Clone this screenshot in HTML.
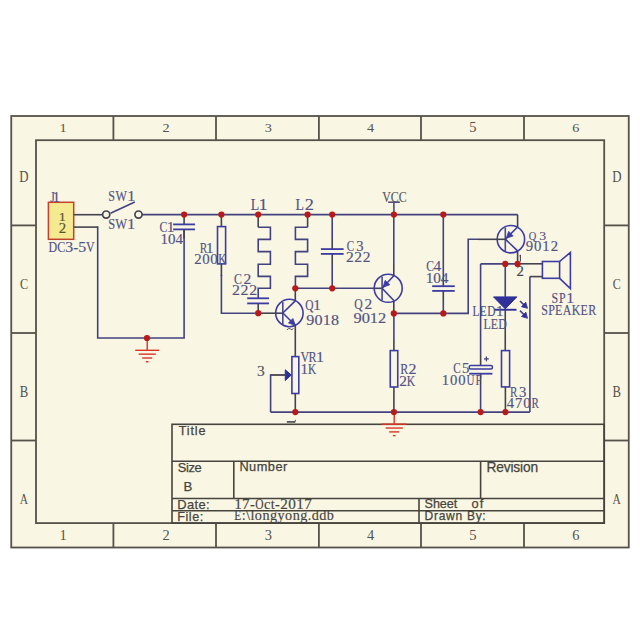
<!DOCTYPE html>
<html><head><meta charset="utf-8"><style>
html,body{margin:0;padding:0;background:#ffffff;}
body{width:640px;height:639px;overflow:hidden;}
svg{display:block;}
</style></head><body>
<svg width="640" height="639" viewBox="0 0 640 639">
<rect x="0" y="0" width="640" height="639" fill="#ffffff"/>
<rect x="11.25" y="116" width="617.5" height="431.5" fill="#f9f6e3" stroke="#55524a" stroke-width="1.8"/>
<rect x="36" y="140.2" width="568.20" height="382.90" fill="none" stroke="#55524a" stroke-width="1.8"/>
<line x1="113.4" y1="116" x2="113.4" y2="140.2" stroke="#55524a" stroke-width="1.8" stroke-linecap="butt"/>
<line x1="113.4" y1="523.1" x2="113.4" y2="547.5" stroke="#55524a" stroke-width="1.8" stroke-linecap="butt"/>
<line x1="216" y1="116" x2="216" y2="140.2" stroke="#55524a" stroke-width="1.8" stroke-linecap="butt"/>
<line x1="216" y1="523.1" x2="216" y2="547.5" stroke="#55524a" stroke-width="1.8" stroke-linecap="butt"/>
<line x1="318.9" y1="116" x2="318.9" y2="140.2" stroke="#55524a" stroke-width="1.8" stroke-linecap="butt"/>
<line x1="318.9" y1="523.1" x2="318.9" y2="547.5" stroke="#55524a" stroke-width="1.8" stroke-linecap="butt"/>
<line x1="421" y1="116" x2="421" y2="140.2" stroke="#55524a" stroke-width="1.8" stroke-linecap="butt"/>
<line x1="421" y1="523.1" x2="421" y2="547.5" stroke="#55524a" stroke-width="1.8" stroke-linecap="butt"/>
<line x1="524" y1="116" x2="524" y2="140.2" stroke="#55524a" stroke-width="1.8" stroke-linecap="butt"/>
<line x1="524" y1="523.1" x2="524" y2="547.5" stroke="#55524a" stroke-width="1.8" stroke-linecap="butt"/>
<line x1="11.25" y1="225.4" x2="36" y2="225.4" stroke="#55524a" stroke-width="1.8" stroke-linecap="butt"/>
<line x1="604.2" y1="225.4" x2="628.75" y2="225.4" stroke="#55524a" stroke-width="1.8" stroke-linecap="butt"/>
<line x1="11.25" y1="333" x2="36" y2="333" stroke="#55524a" stroke-width="1.8" stroke-linecap="butt"/>
<line x1="604.2" y1="333" x2="628.75" y2="333" stroke="#55524a" stroke-width="1.8" stroke-linecap="butt"/>
<line x1="11.25" y1="440.5" x2="36" y2="440.5" stroke="#55524a" stroke-width="1.8" stroke-linecap="butt"/>
<line x1="604.2" y1="440.5" x2="628.75" y2="440.5" stroke="#55524a" stroke-width="1.8" stroke-linecap="butt"/>
<text transform="translate(59.54,131.80) scale(1.06,1)" font-family="Liberation Serif" font-size="13.48" fill="#55524a">1</text>
<text transform="translate(59.49,539.70) scale(1.06,1)" font-family="Liberation Serif" font-size="13.64" fill="#55524a">1</text>
<text transform="translate(162.50,131.80) scale(1.06,1)" font-family="Liberation Serif" font-size="13.48" fill="#55524a">2</text>
<text transform="translate(162.46,539.70) scale(1.06,1)" font-family="Liberation Serif" font-size="13.64" fill="#55524a">2</text>
<text transform="translate(264.81,131.80) scale(1.06,1)" font-family="Liberation Serif" font-size="13.48" fill="#55524a">3</text>
<text transform="translate(264.76,539.70) scale(1.06,1)" font-family="Liberation Serif" font-size="13.64" fill="#55524a">3</text>
<text transform="translate(367.04,131.80) scale(1.06,1)" font-family="Liberation Serif" font-size="13.48" fill="#55524a">4</text>
<text transform="translate(367.00,539.70) scale(1.06,1)" font-family="Liberation Serif" font-size="13.64" fill="#55524a">4</text>
<text transform="translate(469.26,131.80) scale(1.06,1)" font-family="Liberation Serif" font-size="13.59" fill="#55524a">5</text>
<text transform="translate(469.21,539.70) scale(1.06,1)" font-family="Liberation Serif" font-size="13.74" fill="#55524a">5</text>
<text transform="translate(572.29,131.80) scale(1.06,1)" font-family="Liberation Serif" font-size="13.48" fill="#55524a">6</text>
<text transform="translate(572.25,539.70) scale(1.06,1)" font-family="Liberation Serif" font-size="13.64" fill="#55524a">6</text>
<text transform="translate(19.35,181.80) scale(0.8,1)" font-family="Liberation Serif" font-size="16.03" fill="#55524a">D</text>
<text transform="translate(612.15,181.80) scale(0.8,1)" font-family="Liberation Serif" font-size="16.03" fill="#55524a">D</text>
<text transform="translate(19.96,288.80) scale(0.8,1)" font-family="Liberation Serif" font-size="15.15" fill="#55524a">C</text>
<text transform="translate(612.76,288.80) scale(0.8,1)" font-family="Liberation Serif" font-size="15.15" fill="#55524a">C</text>
<text transform="translate(19.77,396.90) scale(0.8,1)" font-family="Liberation Serif" font-size="15.88" fill="#55524a">B</text>
<text transform="translate(612.57,396.90) scale(0.8,1)" font-family="Liberation Serif" font-size="15.88" fill="#55524a">B</text>
<text transform="translate(19.73,503.80) scale(0.8,1)" font-family="Liberation Serif" font-size="14.39" fill="#55524a">A</text>
<text transform="translate(612.53,503.80) scale(0.8,1)" font-family="Liberation Serif" font-size="14.39" fill="#55524a">A</text>
<rect x="172.0" y="424.3" width="432.20" height="98.80" rx="0" stroke="#46443d" stroke-width="1.6" fill="none"/>
<line x1="172.0" y1="461.3" x2="604.2" y2="461.3" stroke="#46443d" stroke-width="1.6" stroke-linecap="butt"/>
<line x1="233.8" y1="461.3" x2="233.8" y2="498.5" stroke="#46443d" stroke-width="1.6" stroke-linecap="butt"/>
<line x1="480.6" y1="461.3" x2="480.6" y2="498.5" stroke="#46443d" stroke-width="1.6" stroke-linecap="butt"/>
<line x1="172.0" y1="498.5" x2="604.2" y2="498.5" stroke="#46443d" stroke-width="1.6" stroke-linecap="butt"/>
<line x1="172.0" y1="510.8" x2="604.2" y2="510.8" stroke="#46443d" stroke-width="1.6" stroke-linecap="butt"/>
<line x1="419" y1="498.5" x2="419" y2="523.1" stroke="#46443d" stroke-width="1.6" stroke-linecap="butt"/>
<text x="178.75" y="434.50" font-family="Liberation Sans" font-size="12.61" fill="#46443d" stroke="#46443d" stroke-width="0.25" textLength="26.75" lengthAdjust="spacing">Title</text>
<text x="177.72" y="471.80" font-family="Liberation Sans" font-size="12.90" fill="#46443d" stroke="#46443d" stroke-width="0.25" textLength="23.87" lengthAdjust="spacing">Size</text>
<text x="183.44" y="490.50" font-family="Liberation Sans" font-size="13.19" fill="#46443d" stroke="#46443d" stroke-width="0.25">B</text>
<text x="239.38" y="471.40" font-family="Liberation Sans" font-size="12.75" fill="#46443d" stroke="#46443d" stroke-width="0.25" textLength="47.83" lengthAdjust="spacing">Number</text>
<text x="486.50" y="471.60" font-family="Liberation Sans" font-size="13.77" fill="#46443d" stroke="#46443d" stroke-width="0.25" textLength="51.60" lengthAdjust="spacing">Revision</text>
<text x="177.27" y="508.50" font-family="Liberation Sans" font-size="12.90" fill="#46443d" stroke="#46443d" stroke-width="0.25" textLength="32.26" lengthAdjust="spacing">Date:</text>
<text x="177.29" y="520.60" font-family="Liberation Sans" font-size="12.61" fill="#46443d" stroke="#46443d" stroke-width="0.25" textLength="25.90" lengthAdjust="spacing">File:</text>
<g font-family="Liberation Serif" font-size="14.35" fill="#46443d" stroke="#46443d" stroke-width="0.15"><text transform="translate(234.13,508.70) scale(1.06,1)">1</text><text transform="translate(242.12,508.70) scale(1.06,1)">7</text><text transform="translate(250.10,508.70) scale(1.0,1)">-</text><text transform="translate(255.26,508.70) scale(0.8,1)">O</text><text transform="translate(263.93,508.70) scale(1.0,1)">c</text><text transform="translate(270.67,508.70) scale(1.0,1)">t</text><text transform="translate(275.04,508.70) scale(1.0,1)">-</text><text transform="translate(280.20,508.70) scale(1.06,1)">2</text><text transform="translate(288.18,508.70) scale(1.06,1)">0</text><text transform="translate(296.17,508.70) scale(1.06,1)">1</text><text transform="translate(304.15,508.70) scale(1.06,1)">7</text></g>
<g font-family="Liberation Serif" font-size="14.20" fill="#46443d" stroke="#46443d" stroke-width="0.15"><text transform="translate(234.26,520.40) scale(0.8,1)">E</text><text transform="translate(241.65,520.40) scale(1.0,1)">:</text><text transform="translate(246.06,520.40) scale(1.0,1)">\</text><text transform="translate(250.46,520.40) scale(1.0,1)">l</text><text transform="translate(254.86,520.40) scale(1.0,1)">o</text><text transform="translate(262.41,520.40) scale(1.0,1)">n</text><text transform="translate(269.97,520.40) scale(1.0,1)">g</text><text transform="translate(277.53,520.40) scale(1.0,1)">y</text><text transform="translate(285.08,520.40) scale(1.0,1)">o</text><text transform="translate(292.64,520.40) scale(1.0,1)">n</text><text transform="translate(300.19,520.40) scale(1.0,1)">g</text><text transform="translate(307.75,520.40) scale(1.0,1)">.</text><text transform="translate(311.76,520.40) scale(1.0,1)">d</text><text transform="translate(319.31,520.40) scale(1.0,1)">d</text><text transform="translate(326.87,520.40) scale(1.0,1)">b</text></g>
<text x="424.53" y="508.40" font-family="Liberation Sans" font-size="12.61" fill="#46443d" stroke="#46443d" stroke-width="0.25" textLength="32.77" lengthAdjust="spacing">Sheet</text>
<text x="471.49" y="508.40" font-family="Liberation Sans" font-size="12.75" fill="#46443d" stroke="#46443d" stroke-width="0.25" textLength="11.70" lengthAdjust="spacing">of</text>
<text x="424.54" y="520.30" font-family="Liberation Sans" font-size="12.03" fill="#46443d" stroke="#46443d" stroke-width="0.25" textLength="61.17" lengthAdjust="spacing">Drawn By:</text>
<line x1="142" y1="214.6" x2="517.6" y2="214.6" stroke="#424280" stroke-width="1.6" stroke-linecap="butt"/>
<rect x="48.4" y="202.3" width="25.30" height="37.00" rx="0" stroke="#c0422a" stroke-width="1.5" fill="#f5e992"/>
<g font-family="Liberation Serif" font-size="14.39" fill="#525282" stroke="#525282" stroke-width="0.15"><text transform="translate(50.37,202.00) scale(0.8,1)">J</text><text transform="translate(52.59,202.00) scale(1.06,1)">1</text></g>
<g font-family="Liberation Serif" font-size="13.33" fill="#58522e" stroke="#58522e" stroke-width="0.15"><text transform="translate(58.63,220.50) scale(1.06,1)">1</text></g>
<g font-family="Liberation Serif" font-size="14.09" fill="#58522e" stroke="#58522e" stroke-width="0.15"><text transform="translate(58.63,232.50) scale(1.06,1)">2</text></g>
<g font-family="Liberation Serif" font-size="15.00" fill="#525282" stroke="#525282" stroke-width="0.15"><text transform="translate(48.54,251.70) scale(0.8,1)">D</text><text transform="translate(57.20,251.70) scale(0.8,1)">C</text><text transform="translate(65.20,251.70) scale(1.06,1)">3</text><text transform="translate(73.14,251.70) scale(1.0,1)">-</text><text transform="translate(78.14,251.70) scale(1.06,1)">5</text><text transform="translate(86.08,251.70) scale(0.8,1)">V</text></g>
<line x1="73.7" y1="214.7" x2="102.7" y2="214.7" stroke="#434350" stroke-width="1.6" stroke-linecap="butt"/>
<line x1="73.7" y1="227.1" x2="97.7" y2="227.1" stroke="#434350" stroke-width="1.6" stroke-linecap="butt"/>
<path d="M97.7,226.3 V338 H184.1 V229.4" stroke="#424280" stroke-width="1.6" fill="none" stroke-linejoin="miter"/>
<circle cx="106.2" cy="214.6" r="3.6" stroke="#434350" stroke-width="1.7" fill="none"/>
<circle cx="138.5" cy="214.6" r="3.6" stroke="#434350" stroke-width="1.7" fill="none"/>
<line x1="110.5" y1="213.2" x2="134.8" y2="202" stroke="#424280" stroke-width="1.6" stroke-linecap="butt"/>
<g font-family="Liberation Serif" font-size="15.15" fill="#525282" stroke="#525282" stroke-width="0.15"><text transform="translate(108.21,201.30) scale(0.8,1)">S</text><text transform="translate(115.42,201.30) scale(0.8,1)">W</text><text transform="translate(127.33,201.30) scale(1.06,1)">1</text></g>
<g font-family="Liberation Serif" font-size="15.61" fill="#525282" stroke="#525282" stroke-width="0.15"><text transform="translate(108.19,228.60) scale(0.8,1)">S</text><text transform="translate(115.23,228.60) scale(0.8,1)">W</text><text transform="translate(127.12,228.60) scale(1.06,1)">1</text></g>
<line x1="184.1" y1="214.6" x2="184.1" y2="224.4" stroke="#434350" stroke-width="1.6" stroke-linecap="butt"/>
<line x1="173.1" y1="224.4" x2="195" y2="224.4" stroke="#3c3ca4" stroke-width="1.8" stroke-linecap="butt"/>
<line x1="173.1" y1="229.4" x2="195" y2="229.4" stroke="#3c3ca4" stroke-width="1.8" stroke-linecap="butt"/>
<line x1="184.1" y1="229.4" x2="184.1" y2="238.7" stroke="#434350" stroke-width="1.6" stroke-linecap="butt"/>
<g font-family="Liberation Serif" font-size="14.77" fill="#525282" stroke="#525282" stroke-width="0.15"><text transform="translate(159.53,231.90) scale(0.8,1)">C</text><text transform="translate(166.86,231.90) scale(1.06,1)">1</text></g>
<g font-family="Liberation Serif" font-size="14.14" fill="#525282" stroke="#525282" stroke-width="0.15"><text transform="translate(160.55,244.40) scale(1.06,1)">1</text><text transform="translate(168.02,244.40) scale(1.06,1)">0</text><text transform="translate(175.48,244.40) scale(1.06,1)">4</text></g>
<line x1="221.4" y1="214.6" x2="221.4" y2="226.6" stroke="#434350" stroke-width="1.6" stroke-linecap="butt"/>
<rect x="217.5" y="226.6" width="8.10" height="37.30" rx="0" stroke="#3c3ca4" stroke-width="1.6" fill="none"/>
<line x1="221.4" y1="263.9" x2="221.4" y2="276" stroke="#434350" stroke-width="1.6" stroke-linecap="butt"/>
<path d="M221.4,275 V313.2 H258.2" stroke="#424280" stroke-width="1.6" fill="none" stroke-linejoin="miter"/>
<g font-family="Liberation Serif" font-size="14.09" fill="#525282" stroke="#525282" stroke-width="0.15"><text transform="translate(199.66,253.10) scale(0.8,1)">R</text><text transform="translate(205.93,253.10) scale(1.06,1)">1</text></g>
<g font-family="Liberation Serif" font-size="14.06" fill="#525282" stroke="#525282" stroke-width="0.15"><text transform="translate(194.33,264.00) scale(1.06,1)">2</text><text transform="translate(202.31,264.00) scale(1.06,1)">0</text><text transform="translate(210.29,264.00) scale(1.06,1)">0</text><text transform="translate(218.26,264.00) scale(0.8,1)">K</text></g>
<line x1="258.2" y1="214.6" x2="258.2" y2="227.2" stroke="#434350" stroke-width="1.6" stroke-linecap="butt"/>
<path d="M258.2,227.2 H270.4 V239.4 H258.2 V251.6 H270.4 V264.2 H258.2 V276.4 H270.4 V288.2 H258.2 V298.3" stroke="#424280" stroke-width="1.6" fill="none" stroke-linejoin="miter"/>
<g font-family="Liberation Serif" font-size="17.27" fill="#525282" stroke="#525282" stroke-width="0.15"><text transform="translate(250.79,210.30) scale(0.8,1)">L</text><text transform="translate(258.59,210.30) scale(1.06,1)">1</text></g>
<line x1="307.6" y1="214.6" x2="307.6" y2="227.2" stroke="#434350" stroke-width="1.6" stroke-linecap="butt"/>
<path d="M307.6,227.2 H295.4 V239.4 H307.6 V251.6 H295.4 V264.2 H307.6 V276.4 H295.4 V288.2" stroke="#424280" stroke-width="1.6" fill="none" stroke-linejoin="miter"/>
<g font-family="Liberation Serif" font-size="17.27" fill="#525282" stroke="#525282" stroke-width="0.15"><text transform="translate(295.49,210.30) scale(0.8,1)">L</text><text transform="translate(304.65,210.30) scale(1.06,1)">2</text></g>
<line x1="247.2" y1="298.3" x2="269" y2="298.3" stroke="#3c3ca4" stroke-width="1.8" stroke-linecap="butt"/>
<line x1="247.2" y1="303.4" x2="269" y2="303.4" stroke="#3c3ca4" stroke-width="1.8" stroke-linecap="butt"/>
<line x1="258.2" y1="303.4" x2="258.2" y2="313.2" stroke="#434350" stroke-width="1.6" stroke-linecap="butt"/>
<g font-family="Liberation Serif" font-size="14.70" fill="#525282" stroke="#525282" stroke-width="0.15"><text transform="translate(234.03,284.30) scale(0.8,1)">C</text><text transform="translate(243.57,284.30) scale(1.06,1)">2</text></g>
<g font-family="Liberation Serif" font-size="15.00" fill="#525282" stroke="#525282" stroke-width="0.15"><text transform="translate(231.98,295.30) scale(1.06,1)">2</text><text transform="translate(240.60,295.30) scale(1.06,1)">2</text><text transform="translate(249.22,295.30) scale(1.06,1)">2</text></g>
<line x1="258.2" y1="313.2" x2="282.8" y2="313.2" stroke="#434350" stroke-width="1.6" stroke-linecap="butt"/>
<circle cx="289.4" cy="313" r="13.7" stroke="#3c3ca4" stroke-width="1.6" fill="none"/>
<line x1="282.8" y1="301.9" x2="282.8" y2="324.4" stroke="#4a4a90" stroke-width="1.6" stroke-linecap="butt"/>
<line x1="282.8" y1="313" x2="295.3" y2="300.9" stroke="#3c3ca4" stroke-width="1.6" stroke-linecap="butt"/>
<line x1="282.8" y1="313" x2="295.3" y2="325.3" stroke="#3c3ca4" stroke-width="1.6" stroke-linecap="butt"/>
<polygon points="295.30,325.30 288.42,323.02 292.91,318.46" fill="#3c3ca4" stroke="#3c3ca4" stroke-width="0.8"/>
<line x1="295.3" y1="300.9" x2="295.3" y2="288.2" stroke="#434350" stroke-width="1.6" stroke-linecap="butt"/>
<line x1="295.3" y1="325.3" x2="295.3" y2="356.6" stroke="#434350" stroke-width="1.6" stroke-linecap="butt"/>
<g font-family="Liberation Serif" font-size="14.24" fill="#525282" stroke="#525282" stroke-width="0.15"><text transform="translate(305.14,309.60) scale(0.8,1)">Q</text><text transform="translate(313.36,309.60) scale(1.06,1)">1</text></g>
<g font-family="Liberation Serif" font-size="15.19" fill="#525282" stroke="#525282" stroke-width="0.15"><text transform="translate(306.22,324.80) scale(1.06,1)">9</text><text transform="translate(314.48,324.80) scale(1.06,1)">0</text><text transform="translate(322.74,324.80) scale(1.06,1)">1</text><text transform="translate(330.99,324.80) scale(1.06,1)">8</text></g>
<path d="M287,330 q1.5,-3 3.5,-1 q1.5,1.5 3,-0.5" stroke="#434350" stroke-width="0.9" fill="none"/>
<line x1="295.3" y1="288.3" x2="372" y2="288.3" stroke="#424280" stroke-width="1.6" stroke-linecap="butt"/>
<line x1="372" y1="288.3" x2="382.1" y2="288.3" stroke="#434350" stroke-width="1.6" stroke-linecap="butt"/>
<line x1="332.2" y1="214.6" x2="332.2" y2="239" stroke="#424280" stroke-width="1.6" stroke-linecap="butt"/>
<line x1="332.2" y1="239" x2="332.2" y2="249.1" stroke="#434350" stroke-width="1.6" stroke-linecap="butt"/>
<line x1="332.2" y1="253.9" x2="332.2" y2="264" stroke="#434350" stroke-width="1.6" stroke-linecap="butt"/>
<line x1="332.2" y1="264" x2="332.2" y2="288.3" stroke="#424280" stroke-width="1.6" stroke-linecap="butt"/>
<line x1="320.9" y1="249.1" x2="343.6" y2="249.1" stroke="#3c3ca4" stroke-width="1.8" stroke-linecap="butt"/>
<line x1="320.9" y1="253.9" x2="343.6" y2="253.9" stroke="#3c3ca4" stroke-width="1.8" stroke-linecap="butt"/>
<g font-family="Liberation Serif" font-size="13.79" fill="#525282" stroke="#525282" stroke-width="0.15"><text transform="translate(346.86,250.50) scale(0.8,1)">C</text><text transform="translate(356.18,250.50) scale(1.06,1)">3</text></g>
<g font-family="Liberation Serif" font-size="14.70" fill="#525282" stroke="#525282" stroke-width="0.15"><text transform="translate(346.00,262.00) scale(1.06,1)">2</text><text transform="translate(354.33,262.00) scale(1.06,1)">2</text><text transform="translate(362.67,262.00) scale(1.06,1)">2</text></g>
<line x1="388.2" y1="202.2" x2="399.9" y2="202.2" stroke="#3a3a70" stroke-width="1.4" stroke-linecap="butt"/>
<line x1="393.9" y1="202.2" x2="393.9" y2="214.6" stroke="#424280" stroke-width="1.5" stroke-linecap="butt"/>
<g font-family="Liberation Serif" font-size="14.85" fill="#545460" stroke="#545460" stroke-width="0.15"><text transform="translate(382.18,201.80) scale(0.8,1)">V</text><text transform="translate(390.75,201.80) scale(0.8,1)">C</text><text transform="translate(398.65,201.80) scale(0.8,1)">C</text></g>
<circle cx="388.2" cy="288.3" r="14" stroke="#3c3ca4" stroke-width="1.6" fill="none"/>
<line x1="382.1" y1="276.75" x2="382.1" y2="300.2" stroke="#4a4a90" stroke-width="1.6" stroke-linecap="butt"/>
<line x1="382.1" y1="288.3" x2="393.8" y2="275.8" stroke="#3c3ca4" stroke-width="1.6" stroke-linecap="butt"/>
<line x1="382.1" y1="288.3" x2="393.8" y2="300.5" stroke="#3c3ca4" stroke-width="1.6" stroke-linecap="butt"/>
<polygon points="383.04,287.30 385.14,280.37 389.81,284.74" fill="#3c3ca4" stroke="#3c3ca4" stroke-width="0.8"/>
<line x1="393.8" y1="214.6" x2="393.8" y2="264" stroke="#424280" stroke-width="1.6" stroke-linecap="butt"/>
<line x1="393.8" y1="264" x2="393.8" y2="275.8" stroke="#434350" stroke-width="1.6" stroke-linecap="butt"/>
<line x1="393.8" y1="300.5" x2="393.8" y2="313.4" stroke="#434350" stroke-width="1.6" stroke-linecap="butt"/>
<g font-family="Liberation Serif" font-size="14.55" fill="#525282" stroke="#525282" stroke-width="0.15"><text transform="translate(354.28,309.00) scale(0.8,1)">Q</text><text transform="translate(364.44,309.00) scale(1.06,1)">2</text></g>
<g font-family="Liberation Serif" font-size="15.49" fill="#525282" stroke="#525282" stroke-width="0.15"><text transform="translate(353.51,322.50) scale(1.06,1)">9</text><text transform="translate(361.67,322.50) scale(1.06,1)">0</text><text transform="translate(369.83,322.50) scale(1.06,1)">1</text><text transform="translate(377.99,322.50) scale(1.06,1)">2</text></g>
<line x1="443.3" y1="214.6" x2="443.3" y2="276" stroke="#424280" stroke-width="1.6" stroke-linecap="butt"/>
<line x1="443.3" y1="276" x2="443.3" y2="286.2" stroke="#434350" stroke-width="1.6" stroke-linecap="butt"/>
<line x1="443.3" y1="290.9" x2="443.3" y2="301" stroke="#434350" stroke-width="1.6" stroke-linecap="butt"/>
<line x1="443.3" y1="301" x2="443.3" y2="313.4" stroke="#424280" stroke-width="1.6" stroke-linecap="butt"/>
<line x1="432.2" y1="286.2" x2="454.75" y2="286.2" stroke="#3c3ca4" stroke-width="1.8" stroke-linecap="butt"/>
<line x1="432.2" y1="290.9" x2="454.75" y2="290.9" stroke="#3c3ca4" stroke-width="1.8" stroke-linecap="butt"/>
<g font-family="Liberation Serif" font-size="14.39" fill="#525282" stroke="#525282" stroke-width="0.15"><text transform="translate(426.14,271.00) scale(0.8,1)">C</text><text transform="translate(433.60,271.00) scale(1.06,1)">4</text></g>
<g font-family="Liberation Serif" font-size="14.44" fill="#525282" stroke="#525282" stroke-width="0.15"><text transform="translate(425.82,282.80) scale(1.06,1)">1</text><text transform="translate(433.30,282.80) scale(1.06,1)">0</text><text transform="translate(440.78,282.80) scale(1.06,1)">4</text></g>
<path d="M393.8,313.4 H468.2 V239.3 H478" stroke="#424280" stroke-width="1.6" fill="none" stroke-linejoin="miter"/>
<line x1="393.9" y1="313.4" x2="393.9" y2="340" stroke="#424280" stroke-width="1.6" stroke-linecap="butt"/>
<line x1="393.9" y1="340" x2="393.9" y2="350.6" stroke="#434350" stroke-width="1.6" stroke-linecap="butt"/>
<rect x="390.25" y="350.6" width="7.50" height="36.40" rx="0" stroke="#3c3ca4" stroke-width="1.6" fill="none"/>
<line x1="393.9" y1="387" x2="393.9" y2="412.1" stroke="#434350" stroke-width="1.6" stroke-linecap="butt"/>
<g font-family="Liberation Serif" font-size="15.08" fill="#525282" stroke="#525282" stroke-width="0.15"><text transform="translate(400.24,373.75) scale(0.8,1)">R</text><text transform="translate(408.49,373.75) scale(1.06,1)">2</text></g>
<g font-family="Liberation Serif" font-size="14.55" fill="#525282" stroke="#525282" stroke-width="0.15"><text transform="translate(399.31,386.25) scale(1.06,1)">2</text><text transform="translate(406.74,386.25) scale(0.8,1)">K</text></g>
<circle cx="510.9" cy="239.2" r="13.7" stroke="#3c3ca4" stroke-width="1.6" fill="none"/>
<line x1="505.3" y1="227.5" x2="505.3" y2="251" stroke="#4a4a90" stroke-width="1.6" stroke-linecap="butt"/>
<line x1="505.3" y1="239.2" x2="517.6" y2="227" stroke="#3c3ca4" stroke-width="1.6" stroke-linecap="butt"/>
<line x1="505.3" y1="239.2" x2="517.6" y2="250.8" stroke="#3c3ca4" stroke-width="1.6" stroke-linecap="butt"/>
<polygon points="506.28,238.22 508.65,231.37 513.15,235.92" fill="#3c3ca4" stroke="#3c3ca4" stroke-width="0.8"/>
<line x1="517.6" y1="214.6" x2="517.6" y2="227" stroke="#434350" stroke-width="1.6" stroke-linecap="butt"/>
<line x1="517.6" y1="250.8" x2="517.6" y2="264" stroke="#434350" stroke-width="1.6" stroke-linecap="butt"/>
<line x1="478" y1="239.3" x2="505.3" y2="239.3" stroke="#434350" stroke-width="1.6" stroke-linecap="butt"/>
<g font-family="Liberation Serif" font-size="13.03" fill="#525282" stroke="#525282" stroke-width="0.15"><text transform="translate(528.78,239.60) scale(0.8,1)">Q</text><text transform="translate(539.15,239.60) scale(1.06,1)">3</text></g>
<g font-family="Liberation Serif" font-size="13.91" fill="#525282" stroke="#525282" stroke-width="0.15"><text transform="translate(525.76,251.25) scale(1.06,1)">9</text><text transform="translate(534.05,251.25) scale(1.06,1)">0</text><text transform="translate(542.35,251.25) scale(1.06,1)">1</text><text transform="translate(550.64,251.25) scale(1.06,1)">2</text></g>
<line x1="520.4" y1="255.1" x2="520.4" y2="261.6" stroke="#434350" stroke-width="1.1" stroke-linecap="butt"/>
<line x1="519.4" y1="256" x2="520.4" y2="255.1" stroke="#434350" stroke-width="0.9" stroke-linecap="butt"/>
<g font-family="Liberation Serif" font-size="13.94" fill="#434350" stroke="#434350" stroke-width="0.15"><text transform="translate(516.54,275.80) scale(1.06,1)">2</text></g>
<line x1="480.6" y1="263.9" x2="517.6" y2="263.9" stroke="#424280" stroke-width="1.6" stroke-linecap="butt"/>
<line x1="517.6" y1="263.8" x2="542.4" y2="263.8" stroke="#434350" stroke-width="1.6" stroke-linecap="butt"/>
<rect x="542.4" y="261.5" width="17.20" height="16.80" rx="0" stroke="#3c3ca4" stroke-width="1.6" fill="none"/>
<path d="M559.6,261.5 L570.4,252.4 V288.6 L559.6,278.3" stroke="#3c3ca4" stroke-width="1.6" fill="none" stroke-linejoin="miter"/>
<line x1="529.9" y1="276.6" x2="542.4" y2="276.6" stroke="#434350" stroke-width="1.6" stroke-linecap="butt"/>
<line x1="529.9" y1="276.6" x2="529.9" y2="412.1" stroke="#424280" stroke-width="1.6" stroke-linecap="butt"/>
<g font-family="Liberation Serif" font-size="15.00" fill="#525282" stroke="#525282" stroke-width="0.15"><text transform="translate(551.62,302.50) scale(0.8,1)">S</text><text transform="translate(558.91,302.50) scale(0.8,1)">P</text><text transform="translate(566.20,302.50) scale(1.06,1)">1</text></g>
<g font-family="Liberation Serif" font-size="15.00" fill="#525282" stroke="#525282" stroke-width="0.15"><text transform="translate(541.22,314.50) scale(0.8,1)">S</text><text transform="translate(548.17,314.50) scale(0.8,1)">P</text><text transform="translate(555.12,314.50) scale(0.8,1)">E</text><text transform="translate(562.73,314.50) scale(0.8,1)">A</text><text transform="translate(571.67,314.50) scale(0.8,1)">K</text><text transform="translate(580.61,314.50) scale(0.8,1)">E</text><text transform="translate(588.22,314.50) scale(0.8,1)">R</text></g>
<line x1="505.25" y1="263.9" x2="505.25" y2="296.9" stroke="#424280" stroke-width="1.6" stroke-linecap="butt"/>
<polygon points="493.50,296.90 516.90,296.90 505.25,308.90" fill="#30309a" stroke="#30309a" stroke-width="1"/>
<line x1="494" y1="309.75" x2="516.5" y2="309.75" stroke="#30309a" stroke-width="1.9" stroke-linecap="butt"/>
<line x1="505.25" y1="309.75" x2="505.25" y2="350.6" stroke="#434350" stroke-width="1.6" stroke-linecap="butt"/>
<line x1="520" y1="301" x2="525.5" y2="306.4" stroke="#424280" stroke-width="1.6" stroke-linecap="butt"/>
<polygon points="527.50,308.30 521.40,306.69 525.72,302.24" fill="#30309a" stroke="#30309a" stroke-width="0.8"/>
<line x1="520" y1="310.6" x2="525.5" y2="316.2" stroke="#424280" stroke-width="1.6" stroke-linecap="butt"/>
<polygon points="527.50,318.30 521.44,316.52 525.88,312.20" fill="#30309a" stroke="#30309a" stroke-width="0.8"/>
<g font-family="Liberation Serif" font-size="14.17" fill="#525282" stroke="#525282" stroke-width="0.15"><text transform="translate(472.41,316.25) scale(0.8,1)">L</text><text transform="translate(479.82,316.25) scale(0.8,1)">E</text><text transform="translate(487.22,316.25) scale(0.8,1)">D</text><text transform="translate(495.89,316.25) scale(1.06,1)">1</text></g>
<g font-family="Liberation Serif" font-size="14.89" fill="#525282" stroke="#525282" stroke-width="0.15"><text transform="translate(483.39,329.40) scale(0.8,1)">L</text><text transform="translate(490.77,329.40) scale(0.8,1)">E</text><text transform="translate(498.15,329.40) scale(0.8,1)">D</text></g>
<line x1="480.6" y1="263.9" x2="480.6" y2="355" stroke="#424280" stroke-width="1.6" stroke-linecap="butt"/>
<line x1="480.6" y1="355" x2="480.6" y2="365.5" stroke="#434350" stroke-width="1.6" stroke-linecap="butt"/>
<line x1="480.6" y1="373.7" x2="480.6" y2="384" stroke="#434350" stroke-width="1.6" stroke-linecap="butt"/>
<line x1="480.6" y1="384" x2="480.6" y2="412.1" stroke="#424280" stroke-width="1.6" stroke-linecap="butt"/>
<rect x="469.2" y="365.5" width="23.20" height="3.40" rx="1.5" stroke="#3c3ca4" stroke-width="1.5" fill="none"/>
<line x1="469.2" y1="373.7" x2="492.4" y2="373.7" stroke="#3c3ca4" stroke-width="1.8" stroke-linecap="butt"/>
<line x1="484" y1="358.9" x2="488.8" y2="358.9" stroke="#424280" stroke-width="1.3" stroke-linecap="butt"/>
<line x1="486.4" y1="356.5" x2="486.4" y2="361.3" stroke="#424280" stroke-width="1.3" stroke-linecap="butt"/>
<g font-family="Liberation Serif" font-size="13.94" fill="#525282" stroke="#525282" stroke-width="0.15"><text transform="translate(453.30,373.20) scale(0.8,1)">C</text><text transform="translate(462.10,373.20) scale(1.06,1)">5</text></g>
<g font-family="Liberation Serif" font-size="13.83" fill="#525282" stroke="#525282" stroke-width="0.15"><text transform="translate(441.78,385.20) scale(1.06,1)">1</text><text transform="translate(450.03,385.20) scale(1.06,1)">0</text><text transform="translate(458.28,385.20) scale(1.06,1)">0</text><text transform="translate(466.53,385.20) scale(0.8,1)">U</text><text transform="translate(475.44,385.20) scale(0.8,1)">F</text></g>
<rect x="501.5" y="350.6" width="8.10" height="36.30" rx="0" stroke="#3c3ca4" stroke-width="1.6" fill="none"/>
<line x1="505.4" y1="386.9" x2="505.4" y2="412.1" stroke="#434350" stroke-width="1.6" stroke-linecap="butt"/>
<g font-family="Liberation Serif" font-size="13.94" fill="#525282" stroke="#525282" stroke-width="0.15"><text transform="translate(510.07,396.70) scale(0.8,1)">R</text><text transform="translate(519.10,396.70) scale(1.06,1)">3</text></g>
<g font-family="Liberation Serif" font-size="13.83" fill="#525282" stroke="#525282" stroke-width="0.15"><text transform="translate(506.71,407.60) scale(1.06,1)">4</text><text transform="translate(514.95,407.60) scale(1.06,1)">7</text><text transform="translate(523.20,407.60) scale(1.06,1)">0</text><text transform="translate(531.44,407.60) scale(0.8,1)">R</text></g>
<line x1="270.6" y1="412.1" x2="529.9" y2="412.1" stroke="#424280" stroke-width="1.6" stroke-linecap="butt"/>
<rect x="291.9" y="356.6" width="6.90" height="36.90" rx="0" stroke="#3c3ca4" stroke-width="1.6" fill="none"/>
<line x1="295.3" y1="393.5" x2="295.3" y2="412.1" stroke="#434350" stroke-width="1.6" stroke-linecap="butt"/>
<polygon points="291.25,375.00 285.25,369.75 285.25,380.60" fill="#30309a" stroke="#30309a" stroke-width="1"/>
<line x1="270.6" y1="375" x2="285.5" y2="375" stroke="#434350" stroke-width="1.8" stroke-linecap="butt"/>
<line x1="270.6" y1="374.2" x2="270.6" y2="412.1" stroke="#424280" stroke-width="1.6" stroke-linecap="butt"/>
<g font-family="Liberation Serif" font-size="14.70" fill="#555560" stroke="#555560" stroke-width="0.15"><text transform="translate(256.97,375.60) scale(1.06,1)">3</text></g>
<g font-family="Liberation Serif" font-size="15.15" fill="#525282" stroke="#525282" stroke-width="0.15"><text transform="translate(300.48,361.90) scale(0.8,1)">V</text><text transform="translate(308.59,361.90) scale(0.8,1)">R</text><text transform="translate(316.03,361.90) scale(1.06,1)">1</text></g>
<g font-family="Liberation Serif" font-size="14.17" fill="#525282" stroke="#525282" stroke-width="0.15"><text transform="translate(300.55,374.00) scale(1.06,1)">1</text><text transform="translate(307.95,374.00) scale(0.8,1)">K</text></g>
<line x1="286.8" y1="421.9" x2="295.3" y2="421.9" stroke="#434350" stroke-width="1.6" stroke-linecap="butt"/>
<line x1="294.8" y1="421.9" x2="295.6" y2="419.8" stroke="#434350" stroke-width="0.9" stroke-linecap="butt"/>
<line x1="147.2" y1="338" x2="147.2" y2="350.3" stroke="#da3426" stroke-width="1.4" stroke-linecap="butt"/>
<line x1="135.2" y1="350.3" x2="159.2" y2="350.3" stroke="#da3426" stroke-width="1.4" stroke-linecap="butt"/>
<line x1="138.6" y1="354.15000000000003" x2="155.79999999999998" y2="354.15000000000003" stroke="#da3426" stroke-width="1.4" stroke-linecap="butt"/>
<line x1="142.2" y1="358.0" x2="152.2" y2="358.0" stroke="#da3426" stroke-width="1.4" stroke-linecap="butt"/>
<line x1="145.89999999999998" y1="361.7" x2="148.5" y2="361.7" stroke="#da3426" stroke-width="1.4" stroke-linecap="butt"/>
<line x1="394.2" y1="412.1" x2="394.2" y2="424.2" stroke="#da3426" stroke-width="1.4" stroke-linecap="butt"/>
<line x1="381.7" y1="424.2" x2="406.7" y2="424.2" stroke="#da3426" stroke-width="1.4" stroke-linecap="butt"/>
<line x1="385.59999999999997" y1="428.05" x2="402.8" y2="428.05" stroke="#da3426" stroke-width="1.4" stroke-linecap="butt"/>
<line x1="389.2" y1="431.9" x2="399.2" y2="431.9" stroke="#da3426" stroke-width="1.4" stroke-linecap="butt"/>
<line x1="392.9" y1="435.59999999999997" x2="395.5" y2="435.59999999999997" stroke="#da3426" stroke-width="1.4" stroke-linecap="butt"/>
<circle cx="184.1" cy="214.6" r="3.1" fill="#b81a1a"/>
<circle cx="221.4" cy="214.6" r="3.1" fill="#b81a1a"/>
<circle cx="258.2" cy="214.6" r="3.1" fill="#b81a1a"/>
<circle cx="307.6" cy="214.6" r="3.1" fill="#b81a1a"/>
<circle cx="332.2" cy="214.6" r="3.1" fill="#b81a1a"/>
<circle cx="393.9" cy="214.6" r="3.1" fill="#b81a1a"/>
<circle cx="443.3" cy="214.6" r="3.1" fill="#b81a1a"/>
<circle cx="258.2" cy="313.2" r="3.1" fill="#b81a1a"/>
<circle cx="295.3" cy="288.3" r="3.1" fill="#b81a1a"/>
<circle cx="332.2" cy="288.3" r="3.1" fill="#b81a1a"/>
<circle cx="393.8" cy="313.4" r="3.1" fill="#b81a1a"/>
<circle cx="443.3" cy="313.4" r="3.1" fill="#b81a1a"/>
<circle cx="505.25" cy="263.9" r="3.1" fill="#b81a1a"/>
<circle cx="517.6" cy="263.9" r="3.1" fill="#b81a1a"/>
<circle cx="295.3" cy="412.1" r="3.1" fill="#b81a1a"/>
<circle cx="393.9" cy="412.1" r="3.1" fill="#b81a1a"/>
<circle cx="480.6" cy="412.1" r="3.1" fill="#b81a1a"/>
<circle cx="505.4" cy="412.1" r="3.1" fill="#b81a1a"/>
<circle cx="147" cy="338" r="3.1" fill="#b81a1a"/>
</svg>
</body></html>
